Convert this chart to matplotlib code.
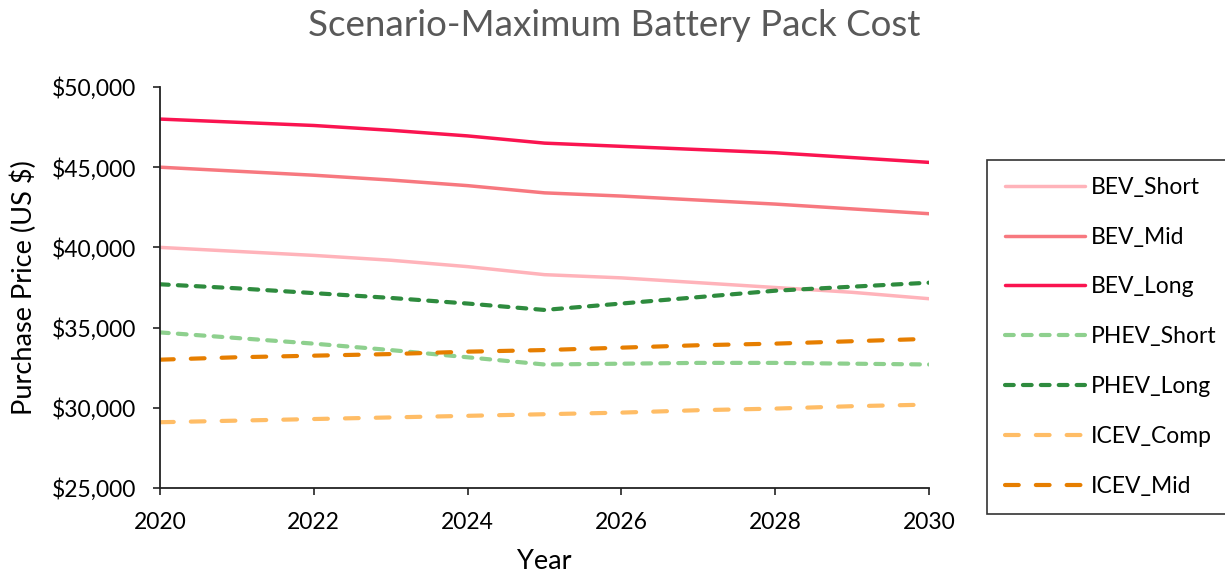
import matplotlib
matplotlib.use("Agg")
import matplotlib.pyplot as plt
from matplotlib.ticker import FuncFormatter

plt.rcParams["font.family"] = ["Lato", "DejaVu Sans"]

# ── Data (purchase price, US $) ───────────────────────────────────────────────
years = [2020, 2021, 2022, 2023, 2024, 2025, 2026, 2027, 2028, 2029, 2030]

bev_short  = [40000, 39750, 39500, 39200, 38800, 38300, 38100, 37800, 37500, 37200, 36800]
bev_mid    = [45000, 44750, 44500, 44200, 43850, 43400, 43200, 42950, 42700, 42400, 42100]
bev_long   = [48000, 47800, 47600, 47300, 46950, 46500, 46300, 46100, 45900, 45600, 45300]
phev_short = [34700, 34350, 34000, 33600, 33150, 32700, 32750, 32800, 32800, 32750, 32700]
phev_long  = [37700, 37450, 37150, 36850, 36500, 36100, 36500, 36900, 37300, 37550, 37800]
icev_comp  = [29100, 29200, 29300, 29400, 29500, 29600, 29700, 29850, 29950, 30100, 30200]
icev_mid   = [33000, 33150, 33250, 33350, 33500, 33600, 33750, 33900, 34000, 34150, 34300]

DOT  = (0, (2.1, 2.2))
DASH = (0, (3.3, 4.1))
series = [
    ("BEV_Short",  bev_short,  "#FFB3BA", "-"),
    ("BEV_Mid",    bev_mid,    "#F7787F", "-"),
    ("BEV_Long",   bev_long,   "#FA1450", "-"),
    ("PHEV_Short", phev_short, "#8ED08E", DOT),
    ("PHEV_Long",  phev_long,  "#2E8B3E", DOT),
    ("ICEV_Comp",  icev_comp,  "#FFBD66", DASH),
    ("ICEV_Mid",   icev_mid,   "#E67E00", DASH),
]

fig = plt.figure(figsize=(12.25, 5.78), dpi=100)
ax = fig.add_axes([0.1306, 0.1557, 0.6278, 0.6938])

for name, vals, color, ls in series:
    lw = 2.5 if ls == "-" else 3.0
    ax.plot(years, vals, color=color, linestyle=ls, lw=lw, label=name,
            solid_capstyle="round", dash_capstyle="round")

ax.set_xlim(2020, 2030)
ax.set_ylim(25000, 50000)
ax.set_xticks(range(2020, 2031, 2))
ax.set_yticks(range(25000, 50001, 5000))
ax.yaxis.set_major_formatter(FuncFormatter(lambda v, _: f"${v:,.0f}"))

for s in ["top", "right"]:
    ax.spines[s].set_visible(False)
for s in ["left", "bottom"]:
    ax.spines[s].set_linewidth(1.3)
    ax.spines[s].set_color("#222222")
ax.tick_params(axis="both", direction="out", length=5, width=1.2,
               labelsize=16.5, colors="#222222", labelcolor="black")
ax.tick_params(axis="y", pad=12)
ax.tick_params(axis="x", pad=12)

ax.set_xlabel("Year", fontsize=19.5, labelpad=12)
ax.set_ylabel("Purchase Price (US $)", fontsize=19.5, labelpad=11)
fig.suptitle("Scenario-Maximum Battery Pack Cost", x=0.501, y=0.985,
             fontsize=26.5, color="#595959")

leg = fig.legend(loc="upper left", bbox_to_anchor=(0.806, 0.724),
                 fontsize=16.5, frameon=True, fancybox=False,
                 handlelength=3.5, handletextpad=0.25, labelspacing=1.26,
                 borderpad=0.75, borderaxespad=0)
leg.get_frame().set_edgecolor("black")
leg.get_frame().set_linewidth(1.2)

fig.savefig("out.png", dpi=100)
